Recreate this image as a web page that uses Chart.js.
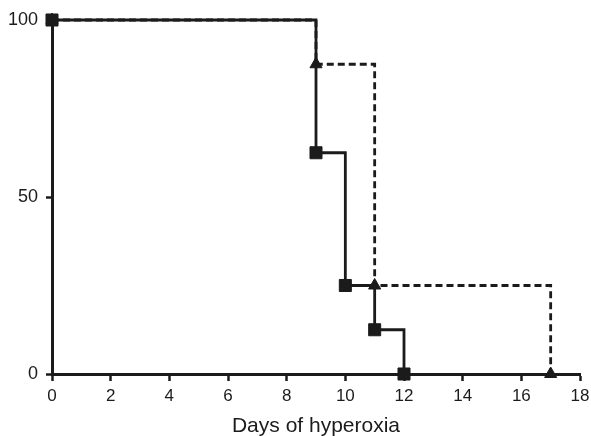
<!DOCTYPE html>
<html>
<head>
<meta charset="utf-8">
<script src="https://cdn.jsdelivr.net/npm/chart.js@4"></script>
<style>
  html, body { margin: 0; padding: 0; background: #fff; }
  #wrap { width: 591px; height: 436px; }
</style>
</head>
<body>
<div id="wrap"><canvas id="survival"></canvas></div>
<script>
// survival curves (percent), x = day of hyperoxia
const daysSquare = [0, 9, 10, 11, 12];
const survSquare = [100, 62.5, 25, 12.5, 0];
const daysTriangle = [0, 9, 11, 17];
const survTriangle = [100, 87.5, 25, 0];
const xTicks = [0, 2, 4, 6, 8, 10, 12, 14, 16, 18];
const yTicks = [0, 50, 100];

const ink = '#1b1b1b';
const face = 'Liberation Sans, Arial, sans-serif';
const toPts = (xs, ys) => xs.map((x, i) => ({ x, y: ys[i] }));

new Chart(document.getElementById('survival'), {
  type: 'line',
  data: {
    datasets: [
      {
        label: 'triangle',
        data: toPts(daysTriangle, survTriangle),
        stepped: 'before',
        borderColor: ink,
        borderWidth: 2.8,
        borderDash: [7, 4],
        pointStyle: 'triangle',
        pointRadius: 7,
        pointBackgroundColor: ink,
        pointBorderColor: ink,
        pointBorderWidth: 1,
        clip: false,
        order: 2,
      },
      {
        label: 'square',
        data: toPts(daysSquare, survSquare),
        stepped: 'before',
        borderColor: ink,
        borderWidth: 2.8,
        pointStyle: 'rect',
        pointRadius: 8.5,
        pointBackgroundColor: ink,
        pointBorderColor: ink,
        pointBorderWidth: 1,
        clip: false,
        order: 1,
      },
    ],
  },
  options: {
    responsive: true,
    maintainAspectRatio: false,
    animation: false,
    layout: { padding: { top: 20, right: 11, left: 0, bottom: 0 } },
    scales: {
      x: {
        type: 'linear',
        min: 0,
        max: 18,
        afterBuildTicks: (axis) => { axis.ticks = xTicks.map(v => ({ value: v })); },
        afterFit: (axis) => { axis.height = 62; axis.paddingRight = 0; axis.paddingLeft = 0; },
        ticks: { color: ink, padding: 5, maxRotation: 0, font: { family: face, size: 17 } },
        grid: { drawOnChartArea: false, tickLength: 7, tickWidth: 2.5, tickColor: ink },
        border: { color: ink, width: 3 },
        title: { display: true, text: 'Days of hyperoxia', color: ink, padding: { top: 4, bottom: -3 },
                 font: { family: face, size: 21 } },
      },
      y: {
        min: 0,
        max: 100,
        afterBuildTicks: (axis) => { axis.ticks = yTicks.map(v => ({ value: v })); },
        afterFit: (axis) => { axis.width = 52; },
        ticks: { color: ink, padding: 8, font: { family: face, size: 18 } },
        grid: { drawOnChartArea: false, tickLength: 6, tickWidth: 2.5, tickColor: ink },
        border: { color: ink, width: 3 },
      },
    },
    plugins: {
      legend: { display: false },
      tooltip: { enabled: false },
    },
  },
});
</script>
</body>
</html>
